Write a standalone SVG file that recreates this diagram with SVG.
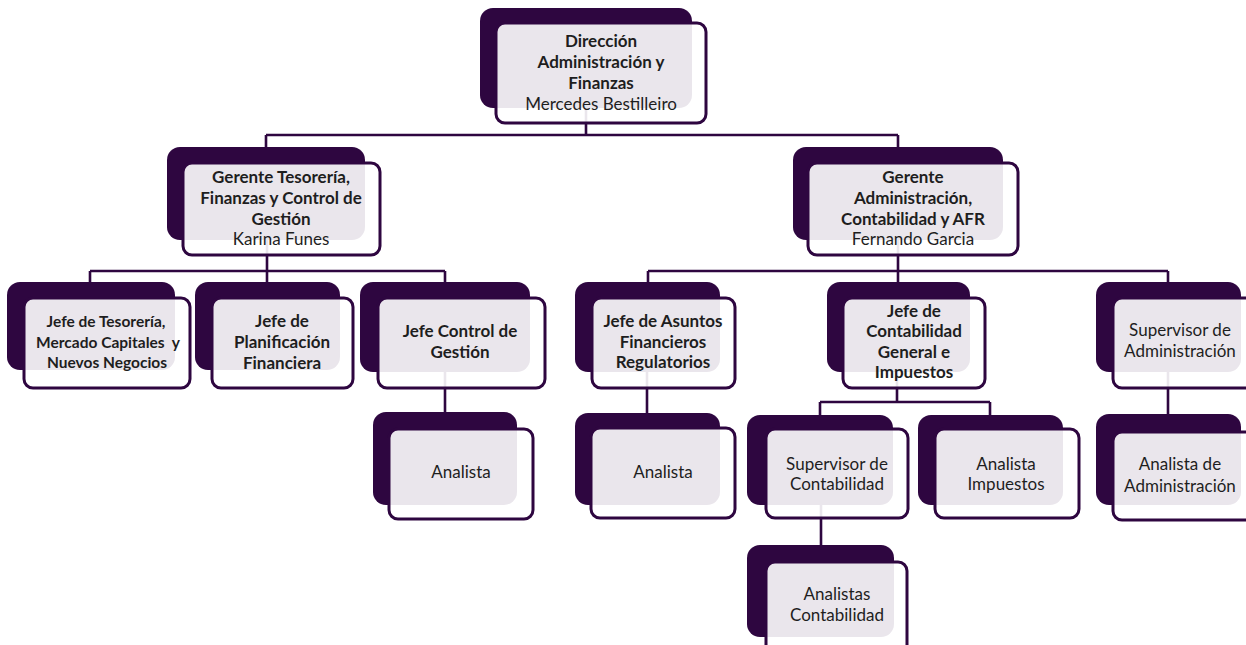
<svg xmlns="http://www.w3.org/2000/svg" width="1246" height="645" viewBox="0 0 1246 645">
<style>
.back{fill:#2e0640}
.front{fill:#ffffff;fill-opacity:0.9;stroke:#2e0640;stroke-width:3}
.conn{stroke:#2e0640;stroke-width:2.6;fill:none}
text{font-family:Lato,"Liberation Sans",sans-serif;font-size:17px;fill:#1e1e1e;text-anchor:middle}
.b{font-weight:bold}
.s{font-size:15.5px}
</style>
<rect width="1246" height="645" fill="#ffffff"/>
<g id="connectors">
<path class="conn" d="M586 60 V135 M266 135 H898 M266 135 V147 M898 135 V147"/>
<path class="conn" d="M267 200 V271 M90 271 H445 M90 271 V282 M267 271 V282 M445 271 V282"/>
<path class="conn" d="M898 200 V271 M648 271 H1168 M648 271 V282 M898 271 V282 M1168 271 V282"/>
<path class="conn" d="M445 330 V412"/>
<path class="conn" d="M647 330 V413"/>
<path class="conn" d="M1168 330 V414"/>
<path class="conn" d="M897 330 V402 M820 402 H990 M820 402 V415 M990 402 V415"/>
<path class="conn" d="M821 470 V545"/>
</g>
<g id="n-direccion">
<rect class="back" x="480" y="8" width="212" height="100" rx="13"/>
<rect class="front" x="496" y="23" width="210" height="100" rx="9"/>
<text class="b" x="601" y="47">Dirección</text>
<text class="b" x="601" y="68">Administración y</text>
<text class="b" x="601" y="89">Finanzas</text>
<text x="601" y="110">Mercedes Bestilleiro</text>
</g>
<g id="n-gerente-tesoreria">
<rect class="back" x="167" y="147" width="198" height="93" rx="13"/>
<rect class="front" x="183" y="163" width="197" height="92" rx="9"/>
<text class="b" x="281" y="183">Gerente Tesorería,</text>
<text class="b" x="281" y="204">Finanzas y Control de</text>
<text class="b" x="281" y="225">Gestión</text>
<text x="281" y="245">Karina Funes</text>
</g>
<g id="n-gerente-admin">
<rect class="back" x="793" y="147" width="210" height="93" rx="13"/>
<rect class="front" x="808" y="163" width="210" height="92" rx="9"/>
<text class="b" x="913" y="183">Gerente</text>
<text class="b" x="913" y="204">Administración,</text>
<text class="b" x="913" y="225">Contabilidad y AFR</text>
<text x="913" y="245">Fernando Garcia</text>
</g>
<g id="n-jefe-tesoreria">
<rect class="back" x="7" y="282" width="168" height="88" rx="13"/>
<rect class="front" x="24" y="298" width="166" height="90" rx="9"/>
<text class="b s" x="106" y="327">Jefe de Tesorería,</text>
<text class="b s" x="108" y="348" xml:space="preserve">Mercado Capitales  y</text>
<text class="b s" x="107" y="368">Nuevos Negocios</text>
</g>
<g id="n-jefe-planificacion">
<rect class="back" x="195" y="282" width="145" height="88" rx="13"/>
<rect class="front" x="212" y="298" width="141" height="90" rx="9"/>
<text class="b" x="282" y="327">Jefe de</text>
<text class="b" x="282" y="348">Planificación</text>
<text class="b" x="282" y="369">Financiera</text>
</g>
<g id="n-jefe-control">
<rect class="back" x="360" y="282" width="170" height="90" rx="13"/>
<rect class="front" x="378" y="298" width="167" height="90" rx="9"/>
<text class="b" x="460" y="337">Jefe Control de</text>
<text class="b" x="460" y="358">Gestión</text>
</g>
<g id="n-analista-control">
<rect class="back" x="373" y="412" width="144" height="93" rx="13"/>
<rect class="front" x="389" y="429" width="144" height="90" rx="9"/>
<text x="461" y="478">Analista</text>
</g>
<g id="n-jefe-asuntos">
<rect class="back" x="575" y="282" width="145" height="90" rx="13"/>
<rect class="front" x="592" y="298" width="143" height="90" rx="9"/>
<text class="b" x="663" y="327">Jefe de Asuntos</text>
<text class="b" x="663" y="348">Financieros</text>
<text class="b" x="663" y="368">Regulatorios</text>
</g>
<g id="n-analista-asuntos">
<rect class="back" x="575" y="413" width="145" height="92" rx="13"/>
<rect class="front" x="591" y="428" width="144" height="90" rx="9"/>
<text x="663" y="478">Analista</text>
</g>
<g id="n-jefe-contabilidad">
<rect class="back" x="827" y="282" width="143" height="90" rx="13"/>
<rect class="front" x="843" y="298" width="142" height="90" rx="9"/>
<text class="b" x="914" y="317">Jefe de</text>
<text class="b" x="914" y="337">Contabilidad</text>
<text class="b" x="914" y="358">General e</text>
<text class="b" x="914" y="378">Impuestos</text>
</g>
<g id="n-supervisor-contabilidad">
<rect class="back" x="747" y="415" width="146" height="90" rx="13"/>
<rect class="front" x="766" y="429" width="142" height="89" rx="9"/>
<text x="837" y="470">Supervisor de</text>
<text x="837" y="490">Contabilidad</text>
</g>
<g id="n-analista-impuestos">
<rect class="back" x="918" y="415" width="145" height="90" rx="13"/>
<rect class="front" x="935" y="429" width="144" height="89" rx="9"/>
<text x="1006" y="470">Analista</text>
<text x="1006" y="490">Impuestos</text>
</g>
<g id="n-analistas-contabilidad">
<rect class="back" x="747" y="545" width="147" height="92" rx="13"/>
<rect class="front" x="766" y="562" width="141" height="95" rx="9"/>
<text x="837" y="600">Analistas</text>
<text x="837" y="621">Contabilidad</text>
</g>
<g id="n-supervisor-admin">
<rect class="back" x="1096" y="282" width="145" height="90" rx="13"/>
<rect class="front" x="1113" y="298" width="145" height="90" rx="9"/>
<text x="1180" y="336">Supervisor de</text>
<text x="1180" y="357">Administración</text>
</g>
<g id="n-analista-admin">
<rect class="back" x="1096" y="414" width="145" height="91" rx="13"/>
<rect class="front" x="1113" y="432" width="145" height="88" rx="9"/>
<text x="1180" y="470">Analista de</text>
<text x="1180" y="492">Administración</text>
</g>
</svg>
